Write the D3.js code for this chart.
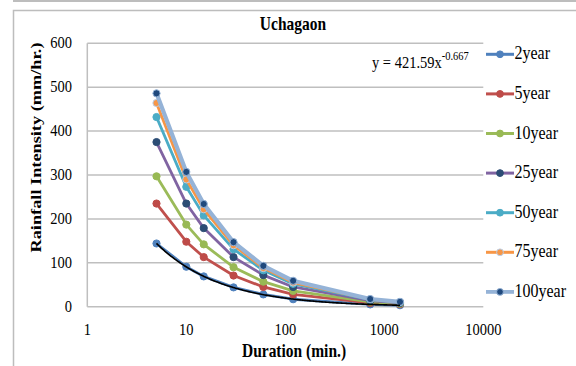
<!DOCTYPE html>
<html>
<head>
<meta charset="utf-8">
<script src="https://cdn.jsdelivr.net/npm/d3@7"></script>
<style>
  html, body { margin: 0; padding: 0; background: #fff; }
  svg { display: block; }
  text { font-family: "Liberation Serif", "Times New Roman", serif; fill: #000; }
</style>
</head>
<body>
<svg id="chart" width="576" height="366"></svg>
<script>
// Rainfall intensity-duration-frequency data for Uchagaon
const durations = [5, 10, 15, 30, 60, 120, 720, 1440];
const seriesNames = ["2year", "5year", "10year", "25year", "50year", "75year", "100year"];
const year2   = [144, 91, 69, 44, 28, 17, 5.2, 3.3];
const year5   = [235, 148, 113, 71, 45, 28, 8.5, 5.4];
const year10  = [297, 187, 142, 90, 57, 36, 11, 7];
const year25  = [375, 235, 179, 113, 72, 45, 14, 8.6];
const year50  = [432, 273, 208, 131, 83, 52, 16, 10];
const year75  = [464, 290, 222, 140, 88, 55, 17, 10.6];
const year100 = [486, 307, 234, 147, 93, 59, 17.5, 11];
const yTicks = [0, 100, 200, 300, 400, 500, 600];
const xTicks = [1, 10, 100, 1000, 10000];
// power trendline of the 2-year series: y = a * x^b
const trendA = 421.59, trendB = -0.667;

const seriesValues = [year2, year5, year10, year25, year50, year75, year100];
const styles = [
  { line: "#4F81BD", marker: "#4F81BD", stroke: "#4F81BD", w: 2.8 },
  { line: "#C0504D", marker: "#BE4B48", stroke: "#BE4B48", w: 2.8 },
  { line: "#9BBB59", marker: "#98B954", stroke: "#98B954", w: 2.8 },
  { line: "#8064A2", marker: "#2C4D75", stroke: "#2C4D75", w: 2.8 },
  { line: "#4BACC6", marker: "#4BACC6", stroke: "#4BACC6", w: 2.8 },
  { line: "#F79646", marker: "#F79646", stroke: "#B9CDE5", w: 2.8 },
  { line: "#95B3D7", marker: "#1F497D", stroke: "#95B3D7", w: 4.2 }
];

const svg = d3.select("#chart");
const SY = 1.18; // vertical text stretch

function label(x, y, str, size, opts = {}) {
  const t = svg.append("text")
    .attr("transform", `translate(${x},${y}) scale(1,${SY})` + (opts.rotate ? ` rotate(${opts.rotate})` : ""))
    .attr("font-size", size)
    .attr("text-anchor", opts.anchor || "start")
    .attr("font-weight", opts.bold ? "bold" : "normal")
    .text(str);
  return t;
}

// frame lines
svg.append("line").attr("x1", 13).attr("x2", 576).attr("y1", 1).attr("y2", 1)
  .attr("stroke", "#BDBDBD").attr("stroke-width", 2);
svg.append("path").attr("d", "M13.5,366 V10.5 H576")
  .attr("fill", "none").attr("stroke", "#BDBDBD").attr("stroke-width", 1.5);

const x = d3.scaleLog().domain([1, 10000]).range([87.3, 483.3]);
const y = d3.scaleLinear().domain([0, 600]).range([306.7, 43.3]);

// gridlines
svg.append("g").selectAll("line").data(yTicks).join("line")
  .attr("x1", x(1)).attr("x2", x(10000))
  .attr("y1", d => y(d)).attr("y2", d => y(d))
  .attr("stroke", "#BFBFBF").attr("stroke-width", 1.5);
svg.append("line").attr("x1", x(1)).attr("x2", x(1)).attr("y1", y(0)).attr("y2", y(600))
  .attr("stroke", "#BFBFBF").attr("stroke-width", 1.5);

// tick labels
yTicks.forEach(v => label(72, y(v) + 5, String(v), 14.5, { anchor: "end" }));
xTicks.forEach(v => label(x(v), 335, String(v), 14.5, { anchor: "middle" }));

// series
const line = d3.line().x(d => x(d[0])).y(d => y(d[1]));
seriesValues.forEach((vals, i) => {
  const pts = durations.map((d, j) => [d, vals[j]]);
  const st = styles[i];
  svg.append("path").attr("d", line(pts)).attr("fill", "none")
    .attr("stroke", st.line).attr("stroke-width", st.w).attr("stroke-linejoin", "round");
  svg.append("g").selectAll("circle").data(pts).join("circle")
    .attr("cx", d => x(d[0])).attr("cy", d => y(d[1])).attr("r", 3.6)
    .attr("fill", st.marker).attr("stroke", st.stroke).attr("stroke-width", 1);
});

// trendline
const trendPts = d3.range(0, 201).map(k => {
  const xv = Math.exp(Math.log(durations[0]) + k / 200 * (Math.log(durations[durations.length - 1]) - Math.log(durations[0])));
  return [xv, trendA * Math.pow(xv, trendB)];
});
svg.append("path").attr("d", line(trendPts)).attr("fill", "none")
  .attr("stroke", "#000").attr("stroke-width", 1.6);

// equation
const eq = label(372, 68, "y = " + trendA + "x", 14.5);
eq.append("tspan").attr("dy", -7).attr("font-size", 10.5).text(String(trendB));

// title and axis titles
label(293, 29.5, "Uchagaon", 15.5, { anchor: "middle", bold: true });
label(294, 357, "Duration (min.)", 15.5, { anchor: "middle", bold: true });
label(41, 147.5, "Rainfall Intensity (mm/hr.)", 15.5, { anchor: "middle", bold: true, rotate: -90 });

// legend
seriesNames.forEach((name, i) => {
  const ly = 54.3 + i * 39.6;
  const st = styles[i];
  svg.append("line").attr("x1", 486).attr("x2", 514).attr("y1", ly).attr("y2", ly)
    .attr("stroke", st.line).attr("stroke-width", st.w > 4 ? 3.8 : 3);
  svg.append("circle").attr("cx", 500).attr("cy", ly).attr("r", 3.4)
    .attr("fill", st.marker).attr("stroke", st.stroke).attr("stroke-width", 1);
  label(514.5, ly + 5, name, 16);
});
</script>
</body>
</html>
